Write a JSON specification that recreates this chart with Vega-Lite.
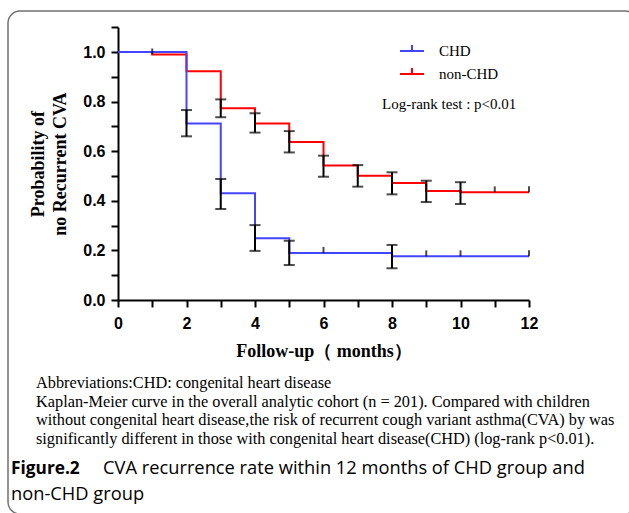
{
  "$schema": "https://vega.github.io/schema/vega-lite/v6.json",
  "width": 629,
  "height": 503,
  "autosize": {"type": "none"},
  "padding": {"left": 8, "top": 11, "right": -8, "bottom": -1},
  "background": "white",
  "config": {
    "view": {"stroke": "#707070", "strokeWidth": 1.5, "cornerRadius": 12},
    "axis": {
      "grid": false,
      "domainColor": "black",
      "domainWidth": 2,
      "tickColor": "black",
      "tickWidth": 2,
      "tickSize": 7,
      "labelFont": "Liberation Sans",
      "labelFontWeight": "bold",
      "labelFontSize": 16,
      "labelColor": "black",
      "labelFlush": false,
      "titleFont": "Liberation Serif",
      "titleFontWeight": "bold",
      "titleFontSize": 18,
      "titleColor": "black"
    }
  },
  "datasets": {
    "km": [
      {"group": "non-CHD", "t": 0, "s": 1.0},
      {"group": "non-CHD", "t": 1, "s": 0.99},
      {"group": "non-CHD", "t": 2, "s": 0.922},
      {"group": "non-CHD", "t": 3, "s": 0.773},
      {"group": "non-CHD", "t": 4, "s": 0.712},
      {"group": "non-CHD", "t": 5, "s": 0.637},
      {"group": "non-CHD", "t": 6, "s": 0.542},
      {"group": "non-CHD", "t": 7, "s": 0.501},
      {"group": "non-CHD", "t": 8, "s": 0.472},
      {"group": "non-CHD", "t": 9, "s": 0.44},
      {"group": "non-CHD", "t": 10, "s": 0.434},
      {"group": "non-CHD", "t": 12, "s": 0.434},
      {"group": "CHD", "t": 0, "s": 1.0},
      {"group": "CHD", "t": 2, "s": 0.712},
      {"group": "CHD", "t": 3, "s": 0.43},
      {"group": "CHD", "t": 4, "s": 0.249},
      {"group": "CHD", "t": 5, "s": 0.19},
      {"group": "CHD", "t": 8, "s": 0.176},
      {"group": "CHD", "t": 12, "s": 0.176}
    ],
    "err": [
      {"group": "CHD", "t": 2, "lo": 0.66, "hi": 0.766},
      {"group": "CHD", "t": 3, "lo": 0.367, "hi": 0.488},
      {"group": "CHD", "t": 4, "lo": 0.198, "hi": 0.302},
      {"group": "CHD", "t": 5, "lo": 0.141, "hi": 0.239},
      {"group": "CHD", "t": 8, "lo": 0.128, "hi": 0.222},
      {"group": "non-CHD", "t": 3, "lo": 0.737, "hi": 0.809},
      {"group": "non-CHD", "t": 4, "lo": 0.675, "hi": 0.753},
      {"group": "non-CHD", "t": 5, "lo": 0.595, "hi": 0.681},
      {"group": "non-CHD", "t": 6, "lo": 0.497, "hi": 0.582},
      {"group": "non-CHD", "t": 7, "lo": 0.457, "hi": 0.544},
      {"group": "non-CHD", "t": 8, "lo": 0.426, "hi": 0.515},
      {"group": "non-CHD", "t": 9, "lo": 0.395, "hi": 0.481},
      {"group": "non-CHD", "t": 10, "lo": 0.387, "hi": 0.475}
    ],
    "cens": [
      {"group": "CHD", "t": 6, "s": 0.19},
      {"group": "CHD", "t": 9, "s": 0.176},
      {"group": "CHD", "t": 10, "s": 0.176},
      {"group": "CHD", "t": 12, "s": 0.176},
      {"group": "non-CHD", "t": 1, "s": 0.99},
      {"group": "non-CHD", "t": 11, "s": 0.434},
      {"group": "non-CHD", "t": 12, "s": 0.434}
    ]
  },
  "layer": [
    {
      "data": {"name": "km"},
      "mark": {"type": "line", "interpolate": "step-after", "strokeWidth": 2},
      "encoding": {
        "x": {
          "field": "t", "type": "quantitative", "title": "Follow-up（ months）",
          "scale": {"domain": [0, 12], "range": [110, 521], "nice": false, "zero": false},
          "axis": {
            "offset": -214,
            "values": [0, 1, 2, 3, 4, 5, 6, 7, 8, 9, 10, 11, 12],
            "labelExpr": "datum.value % 2 == 0 ? datum.label : ''",
            "labelPadding": 8,
            "titlePadding": 11
          }
        },
        "y": {
          "field": "s", "type": "quantitative", "title": ["Probability of", "no Recurrent CVA"],
          "scale": {"domain": [0, 1.1], "range": [289, 16.2], "nice": false, "zero": false},
          "axis": {
            "offset": -110,
            "values": [0, 0.1, 0.2, 0.3, 0.4, 0.5, 0.6, 0.7, 0.8, 0.9, 1.0, 1.1],
            "labelExpr": "round(datum.value * 10) % 2 == 0 && datum.value < 1.05 ? format(datum.value, '.1f') : ''",
            "labelPadding": 6,
            "titlePadding": 13,
            "titleLineHeight": 22
          }
        },
        "color": {
          "field": "group", "type": "nominal",
          "scale": {"domain": ["CHD", "non-CHD"], "range": ["#4444ff", "#ff0000"]},
          "legend": {
            "orient": "none",
            "legendX": 391,
            "legendY": 27,
            "title": null,
            "padding": 0,
            "symbolType": "M-1,0H1M0,0V-0.5",
            "symbolSize": 576,
            "symbolStrokeWidth": 2,
            "labelFont": "Liberation Serif",
            "labelFontSize": 15,
            "labelFontWeight": "normal",
            "labelColor": "black",
            "labelOffset": 14,
            "rowPadding": 2
          }
        }
      }
    },
    {
      "data": {"name": "err"},
      "mark": {"type": "errorbar", "color": "black", "thickness": 2, "ticks": {"size": 11, "thickness": 2, "color": "black"}},
      "encoding": {
        "x": {"field": "t", "type": "quantitative", "title": "Follow-up（ months）"},
        "y": {"field": "lo", "type": "quantitative", "title": ["Probability of", "no Recurrent CVA"]},
        "y2": {"field": "hi"}
      }
    },
    {
      "data": {"name": "cens"},
      "mark": {"type": "tick", "orient": "vertical", "size": 6, "thickness": 2, "yOffset": -3, "color": "black"},
      "encoding": {
        "x": {"field": "t", "type": "quantitative", "title": "Follow-up（ months）"},
        "y": {"field": "s", "type": "quantitative", "title": ["Probability of", "no Recurrent CVA"]}
      }
    },
    {
      "data": {"values": [{}]},
      "mark": {"type": "text", "text": "Log-rank test : p<0.01", "align": "left", "baseline": "alphabetic", "font": "Liberation Serif", "fontSize": 15, "color": "black"},
      "encoding": {
        "x": {"datum": 7.708, "type": "quantitative"},
        "y": {"datum": 0.77, "type": "quantitative"}
      }
    },
    {
      "data": {"values": [{}]},
      "mark": {
        "type": "text",
        "text": [
          "Abbreviations:CHD: congenital heart disease",
          "Kaplan-Meier curve in the overall analytic cohort (n = 201). Compared with children",
          "without congenital heart disease,the risk of recurrent cough variant asthma(CVA) by was",
          "significantly different in those with congenital heart disease(CHD) (log-rank p<0.01)."
        ],
        "align": "left", "baseline": "alphabetic", "font": "Liberation Serif", "fontSize": 16.3, "lineHeight": 18.7, "color": "black"
      },
      "encoding": {
        "x": {"datum": -2.394, "type": "quantitative"},
        "y": {"datum": -0.3548, "type": "quantitative"}
      }
    },
    {
      "data": {"values": [{}]},
      "mark": {"type": "text", "text": "Figure.2", "align": "left", "baseline": "alphabetic", "font": "Open Sans", "fontWeight": "bold", "fontSize": 17.3, "color": "black"},
      "encoding": {
        "x": {"datum": -3.124, "type": "quantitative"},
        "y": {"datum": -0.7016, "type": "quantitative"}
      }
    },
    {
      "data": {"values": [{}]},
      "mark": {"type": "text", "text": "CVA recurrence rate within 12 months of CHD group and", "align": "left", "baseline": "alphabetic", "font": "Open Sans", "fontSize": 18.3, "color": "black"},
      "encoding": {
        "x": {"datum": -0.438, "type": "quantitative"},
        "y": {"datum": -0.7016, "type": "quantitative"}
      }
    },
    {
      "data": {"values": [{}]},
      "mark": {"type": "text", "text": "non-CHD group", "align": "left", "baseline": "alphabetic", "font": "Open Sans", "fontSize": 18.3, "color": "black"},
      "encoding": {
        "x": {"datum": -3.124, "type": "quantitative"},
        "y": {"datum": -0.806, "type": "quantitative"}
      }
    }
  ]
}
